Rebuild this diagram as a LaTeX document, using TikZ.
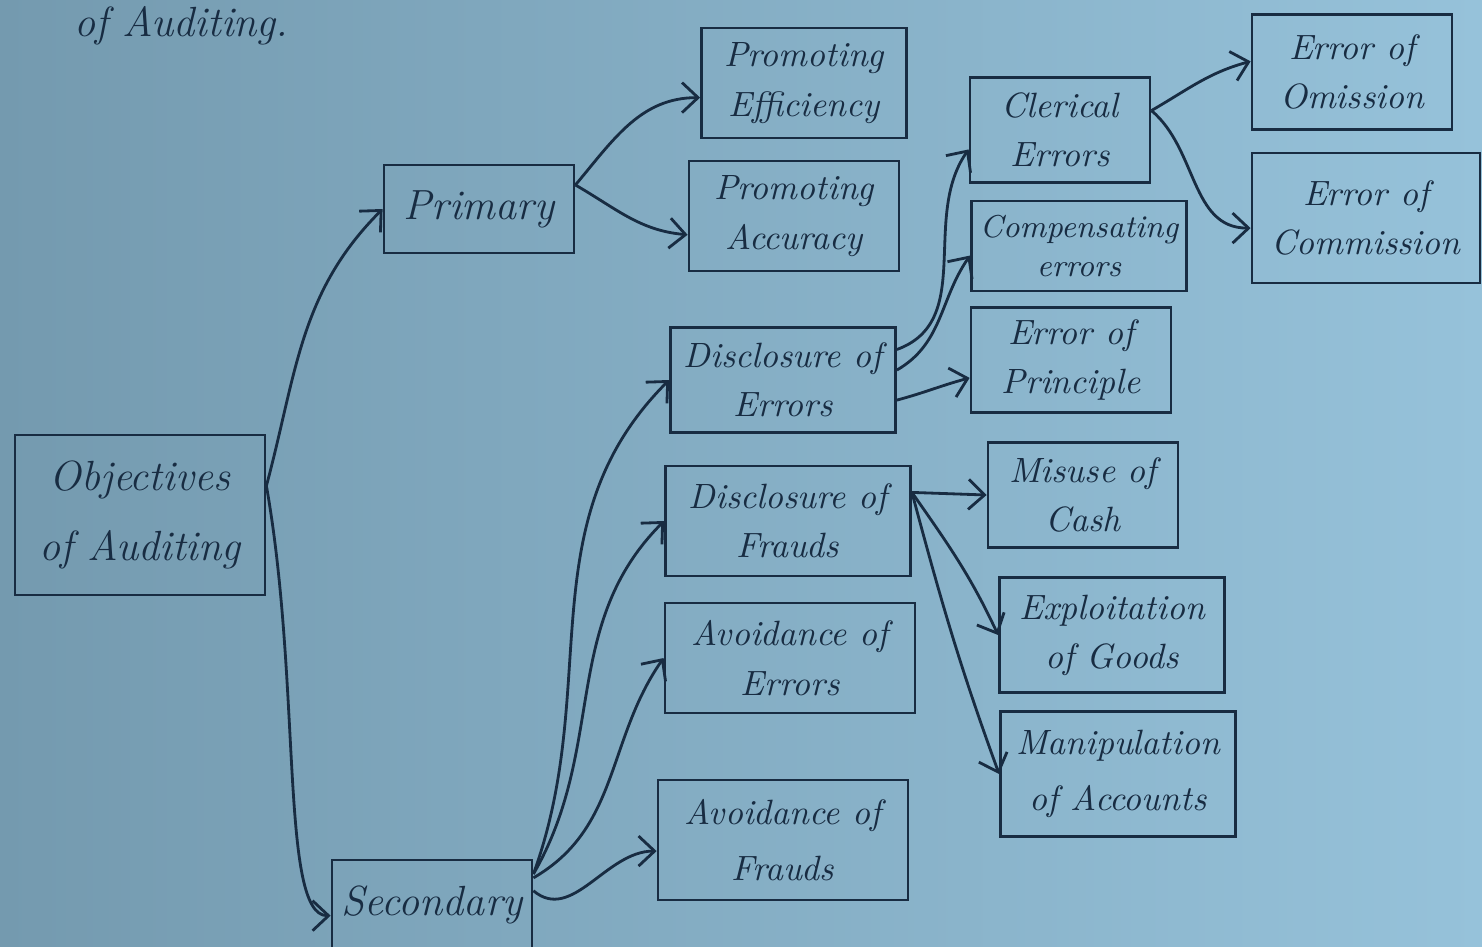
\documentclass[tikz,border=0pt]{standalone}
\usetikzlibrary{arrows.meta}
\definecolor{ink}{RGB}{24,44,66}
\definecolor{paperl}{RGB}{116,154,175}
\definecolor{paperr}{RGB}{150,194,218}
\tikzset{
  box/.style={draw=ink, thick, align=center, font=\itshape, text=ink, inner sep=2pt},
  bigbox/.style={box, font=\large\itshape},
  link/.style={draw=ink, thick, -{Straight Barb[length=1.6mm,width=3mm]}}
}
\begin{document}
\begin{tikzpicture}
\shade[left color=paperl, right color=paperr] (0,0) rectangle (14.82,-9.46);
\useasboundingbox (0,0) rectangle (14.82,-9.46);
\node[anchor=base west, text=ink, font=\large\itshape] (title) at (0.62,-0.36) {of Auditing.};
\node[bigbox, minimum width=2.5cm, minimum height=1.6cm] (obj) at (1.40,-5.15) {Objectives\\[6pt]of Auditing};
\node[bigbox, minimum width=1.9cm, minimum height=0.88cm] (prim) at (4.79,-2.09) {Primary};
\node[bigbox, minimum width=2.0cm, minimum height=0.9cm] (sec) at (4.32,-9.05) {Secondary};
\node[box, minimum width=2.05cm, minimum height=1.1cm] (eff) at (8.04,-0.83) {Promoting\\[2pt]Efficiency};
\node[box, minimum width=2.1cm, minimum height=1.1cm] (acc) at (7.94,-2.16) {Promoting\\[2pt]Accuracy};
\node[box, minimum width=2.25cm, minimum height=1.05cm] (derr) at (7.83,-3.80) {Disclosure of\\[2pt]Errors};
\node[box, minimum width=2.45cm, minimum height=1.1cm] (dfr) at (7.88,-5.21) {Disclosure of\\[2pt]Frauds};
\node[box, minimum width=2.5cm, minimum height=1.1cm] (aerr) at (7.90,-6.58) {Avoidance of\\[2pt]Errors};
\node[box, minimum width=2.5cm, minimum height=1.2cm] (afr) at (7.83,-8.40) {Avoidance of\\[4pt]Frauds};
\node[box, minimum width=1.8cm, minimum height=1.05cm] (cler) at (10.60,-1.30) {Clerical\\[2pt]Errors};
\node[box, font=\small\itshape, minimum width=2.15cm, minimum height=0.9cm] (comp) at (10.79,-2.46) {Compensating\\errors};
\node[box, minimum width=2.0cm, minimum height=1.05cm] (prin) at (10.71,-3.60) {Error of\\[2pt]Principle};
\node[box, minimum width=2.0cm, minimum height=1.15cm] (omi) at (13.52,-0.72) {Error of\\[2pt]Omission};
\node[box, minimum width=2.28cm, minimum height=1.3cm] (com) at (13.66,-2.18) {Error of\\[2pt]Commission};
\node[box, minimum width=1.9cm, minimum height=1.05cm] (cash) at (10.83,-4.95) {Misuse of\\[2pt]Cash};
\node[box, minimum width=2.25cm, minimum height=1.15cm] (goods) at (11.12,-6.35) {Exploitation\\[2pt]of Goods};
\node[box, minimum width=2.35cm, minimum height=1.25cm] (accts) at (11.18,-7.74) {Manipulation\\[4pt]of Accounts};
\draw[link] (obj.13) to[out=75,in=225] (prim.west);
\draw[link] (obj.13) to[out=-80,in=180,out looseness=1.2,in looseness=0.3] (sec.186);
\draw[link] (prim.14) to[out=50,in=180] (eff.188);
\draw[link] (prim.14) to[out=-30,in=175] (acc.190);
\draw[link] (sec.17) to[out=70,in=225] (derr.west);
\draw[link] (sec.17) to[out=60,in=225] (dfr.west);
\draw[link] (sec.15) to[out=30,in=235] (aerr.west);
\draw[link] (sec.8) to[out=-40,in=180] (afr.185);
\draw[link] (derr.15) to[out=20,in=235] (cler.192);
\draw[link] (derr.5) to[out=30,in=235] (comp.185);
\draw[link] (derr.-10) to[out=15,in=195] (prin.190);
\draw[link] (cler.12) to[out=30,in=195] (omi.174);
\draw[link] (cler.12) to[out=-40,in=180] (com.185);
\draw[link] (dfr.13) -- (cash.west);
\draw[link] (dfr.13) to[out=-55,in=115] (goods.west);
\draw[link] (dfr.13) to[out=-75,in=110] (accts.west);
\end{tikzpicture}
\end{document}
